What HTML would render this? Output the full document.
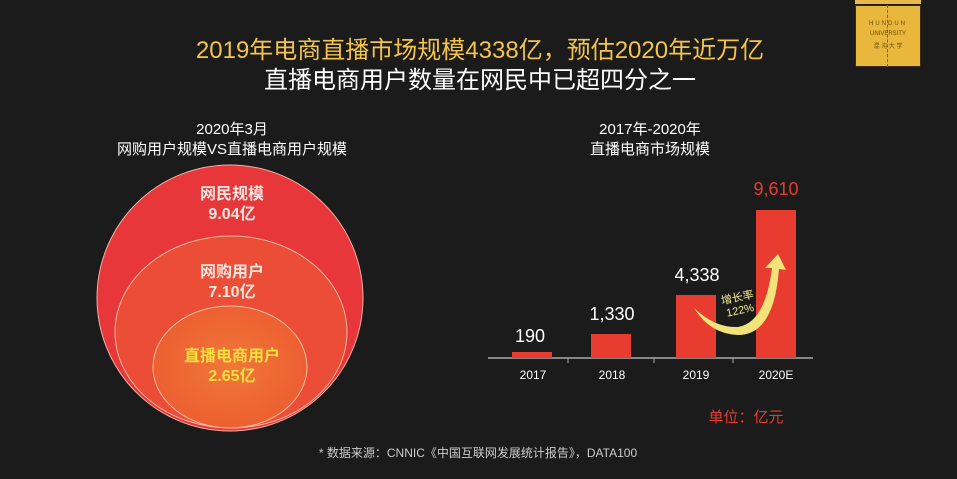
<!DOCTYPE html>
<html><head><meta charset="utf-8"><style>
body{margin:0;width:957px;height:479px;background:#1b1b1b;overflow:hidden;font-family:"Liberation Sans","Noto Sans CJK SC",sans-serif;position:relative}
.t{position:absolute;white-space:nowrap;transform:translateX(-50%)}
</style></head><body>
<div style="position:absolute;left:855px;top:0;width:66px;height:4px;background:#e8b84a"></div>
<div style="position:absolute;left:855px;top:5px;width:66px;height:62px;background:#e9b73c;border:1px solid #3a2a10;box-sizing:border-box"></div>
<div style="position:absolute;left:887px;top:5px;width:0;height:62px;border-left:1px dashed #8a5a20"></div>
<div class="t" style="left:888px;top:21px;font-size:6px;color:#6a4a10;letter-spacing:2px">HUNDUN</div>
<div class="t" style="left:888px;top:31px;font-size:6px;color:#6a4a10">UNIVERSITY</div>
<div class="t" style="left:888px;top:41px;font-size:6px;color:#6a4a10">混 沌 大 学</div>

<div class="t" style="left:480px;top:30px;font-size:24px;color:#f4c44a">2019年电商直播市场规模4338亿，预估2020年近万亿</div>
<div class="t" style="left:480px;top:60px;font-size:24px;color:#fff">直播电商用户数量在网民中已超四分之一</div>

<div class="t" style="left:232px;top:118px;font-size:15px;color:#fff">2020年3月</div>
<div class="t" style="left:232px;top:138px;font-size:15px;color:#fff">网购用户规模VS直播电商用户规模</div>
<div class="t" style="left:650px;top:118px;font-size:15px;color:#fff">2017年-2020年</div>
<div class="t" style="left:650px;top:138px;font-size:15px;color:#fff">直播电商市场规模</div>

<svg width="957" height="479" style="position:absolute;left:0;top:0">
<defs><radialGradient id="g" cx="50%" cy="50%" r="60%"><stop offset="0" stop-color="#f07838"/><stop offset="1" stop-color="#ec5a30"/></radialGradient></defs>
<ellipse cx="230" cy="298" rx="133" ry="133" fill="#e8373a" stroke="#f3b0a0" stroke-width="1"/>
<ellipse cx="231" cy="332" rx="116" ry="96" fill="#eb4d37" stroke="#f3b8a0" stroke-width="1"/>
<ellipse cx="230" cy="367" rx="77" ry="61" fill="url(#g)" stroke="#f5c0a0" stroke-width="1"/>
<line x1="488" y1="358" x2="813" y2="358" stroke="#aaa" stroke-width="1.5"/>
<line x1="568" y1="358" x2="568" y2="363" stroke="#aaa"/><line x1="654" y1="358" x2="654" y2="363" stroke="#aaa"/><line x1="733" y1="358" x2="733" y2="363" stroke="#aaa"/>
<rect x="512" y="352" width="40" height="6" fill="#e83c30"/>
<rect x="591" y="334" width="40" height="24" fill="#e83c30"/>
<rect x="676" y="295" width="40" height="63" fill="#e83c30"/>
<rect x="756" y="210" width="40" height="148" fill="#e83c30"/>
<path d="M694 308 Q715 328 738 327 Q765 323 772 268 L765 268 L778 254 L786 270 L779 269 Q774 335 738 335 Q710 334 694 308 Z" fill="#f2e27a"/>
</svg>
<div class="t" style="left:232px;top:180px;font-size:16px;font-weight:bold;color:#f5e8e0">网民规模</div>
<div class="t" style="left:232px;top:200px;font-size:16px;font-weight:bold;color:#f5e8e0">9.04亿</div>
<div class="t" style="left:232px;top:258px;font-size:16px;font-weight:bold;color:#f5e8e0">网购用户</div>
<div class="t" style="left:232px;top:278px;font-size:16px;font-weight:bold;color:#f5e8e0">7.10亿</div>
<div class="t" style="left:232px;top:342px;font-size:16px;font-weight:bold;color:#f8e040">直播电商用户</div>
<div class="t" style="left:232px;top:362px;font-size:16px;font-weight:bold;color:#f8e040">2.65亿</div>

<div class="t" style="left:530px;top:326px;font-size:18px;color:#fff">190</div>
<div class="t" style="left:612px;top:304px;font-size:18px;color:#fff">1,330</div>
<div class="t" style="left:697px;top:265px;font-size:18px;color:#fff">4,338</div>
<div class="t" style="left:776px;top:179px;font-size:18px;color:#e83c30">9,610</div>
<div class="t" style="left:739px;top:292px;font-size:11px;line-height:13px;color:#f4ea90;text-align:center;transform:translateX(-50%) rotate(-12deg)">增长率<br>122%</div>
<div class="t" style="left:533px;top:368px;font-size:12px;color:#fff">2017</div>
<div class="t" style="left:612px;top:368px;font-size:12px;color:#fff">2018</div>
<div class="t" style="left:696px;top:368px;font-size:12px;color:#fff">2019</div>
<div class="t" style="left:776px;top:368px;font-size:12px;color:#fff">2020E</div>
<div class="t" style="left:746px;top:406px;font-size:15px;color:#e83c30">单位：亿元</div>
<div class="t" style="left:478px;top:444px;font-size:12px;color:#ccc">* 数据来源：CNNIC《中国互联网发展统计报告》，DATA100</div>
</body></html>
